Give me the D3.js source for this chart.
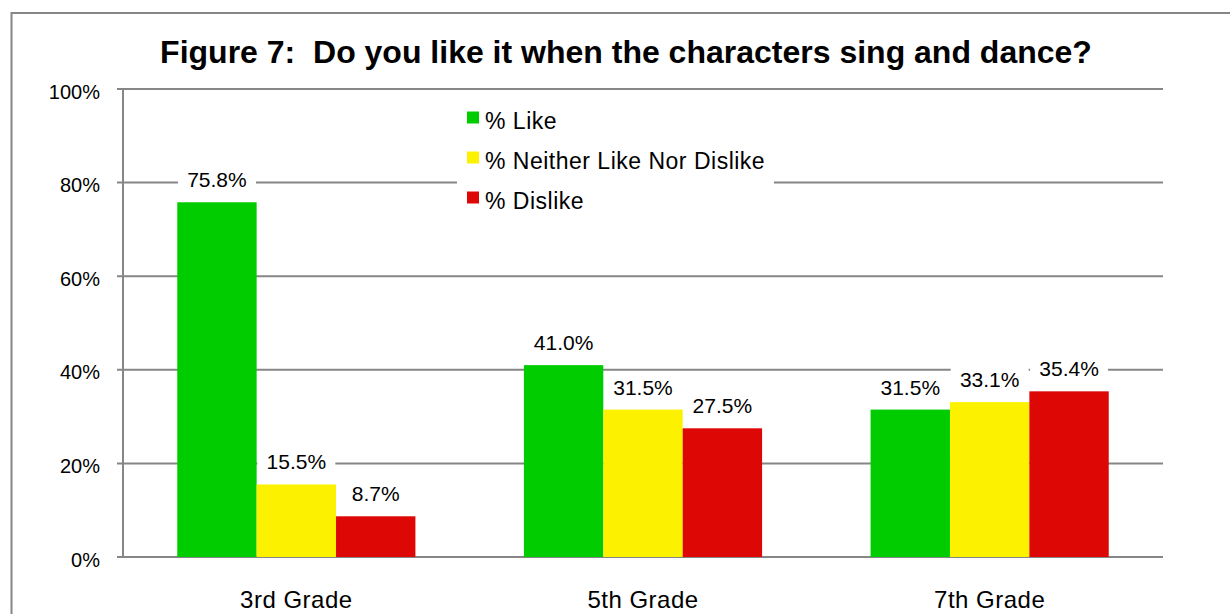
<!DOCTYPE html>
<html>
<head>
<meta charset="utf-8">
<script src="https://cdn.jsdelivr.net/npm/d3@7"></script>
<style>
  body { margin: 0; background: #fff; }
  text { font-family: "Liberation Sans", Arial, sans-serif; fill: #000; }
</style>
</head>
<body>
<script>
var grades = ["3rd Grade", "5th Grade", "7th Grade"];
var seriesNames = ["% Like", "% Neither Like Nor Dislike", "% Dislike"];
var like = [75.8, 41.0, 31.5];
var neither = [15.5, 31.5, 33.1];
var dislike = [8.7, 27.5, 35.4];
var yTicks = [0, 20, 40, 60, 80, 100];
var colors = ["#00cc00", "#fcf200", "#dd0806"];

var width = 1230, height = 614;
var plot = {left: 123, right: 1163, top: 89, bottom: 557};
var gridColor = "#868686";

var svg = d3.select("body")
  .append("svg")
    .attr("width", width)
    .attr("height", height);

// outer frame (only left and top edges visible in the crop)
svg.append("path")
  .attr("d", "M11.5,614 L11.5,13 L1230,13")
  .attr("fill", "none")
  .attr("stroke", gridColor)
  .attr("stroke-width", 2);

var y = d3.scaleLinear().domain([0, 100]).range([plot.bottom, plot.top]);
var x0 = d3.scaleBand().domain(grades).range([plot.left, plot.right]);
var groupW = x0.bandwidth() * 0.687;
var x1 = d3.scaleBand().domain(seriesNames)
  .range([(x0.bandwidth() - groupW) / 2, (x0.bandwidth() + groupW) / 2]);

// grid lines
svg.append("g").selectAll("line")
  .data(yTicks)
  .enter()
  .append("line")
    .attr("x1", plot.left - 6)
    .attr("x2", plot.right)
    .attr("y1", function(d) { return y(d); })
    .attr("y2", function(d) { return y(d); })
    .attr("stroke", gridColor)
    .attr("stroke-width", 2);

svg.append("line")
  .attr("x1", plot.left).attr("x2", plot.left)
  .attr("y1", y(100)).attr("y2", y(0))
  .attr("stroke", gridColor)
  .attr("stroke-width", 2);

svg.append("g").selectAll("text")
  .data(yTicks)
  .enter()
  .append("text")
    .attr("x", 100)
    .attr("y", function(d) { return y(d) + 9.5; })
    .attr("text-anchor", "end")
    .style("font-size", "20px")
    .text(function(d) { return d + "%"; });

// bars
var rows = [];
grades.forEach(function(g, i) {
  rows.push({grade: g, series: seriesNames[0], value: like[i], color: colors[0]});
  rows.push({grade: g, series: seriesNames[1], value: neither[i], color: colors[1]});
  rows.push({grade: g, series: seriesNames[2], value: dislike[i], color: colors[2]});
});

svg.append("g").selectAll("rect")
  .data(rows)
  .enter()
  .append("rect")
    .attr("x", function(d) { return x0(d.grade) + x1(d.series); })
    .attr("y", function(d) { return y(d.value); })
    .attr("width", x1.bandwidth())
    .attr("height", function(d) { return y(0) - y(d.value); })
    .attr("fill", function(d) { return d.color; });

// value labels with white backing
var labels = svg.append("g").selectAll("g")
  .data(rows)
  .enter()
  .append("g")
    .attr("transform", function(d) {
      return "translate(" + (x0(d.grade) + x1(d.series) + x1.bandwidth() / 2) + "," + (y(d.value) - 15) + ")";
    });

labels.append("rect")
  .attr("x", -39)
  .attr("y", -21)
  .attr("width", 78)
  .attr("height", 27)
  .attr("fill", "#fff");

labels.append("text")
  .attr("text-anchor", "middle")
  .style("font-size", "21px")
  .text(function(d) { return d.value.toFixed(1) + "%"; });

// category labels
svg.append("g").selectAll("text")
  .data(grades)
  .enter()
  .append("text")
    .attr("x", function(d) { return x0(d) + x0.bandwidth() / 2; })
    .attr("y", 608)
    .attr("text-anchor", "middle")
    .style("font-size", "24px")
    .style("letter-spacing", "0.5px")
    .text(function(d) { return d; });

// legend
var legend = svg.append("g");
legend.append("rect")
  .attr("x", 457).attr("y", 100)
  .attr("width", 317).attr("height", 115)
  .attr("fill", "#fff");

var item = legend.selectAll("g")
  .data(seriesNames)
  .enter()
  .append("g")
    .attr("transform", function(d, i) { return "translate(467," + (117.5 + i * 40) + ")"; });

item.append("rect")
  .attr("x", 0).attr("y", -6)
  .attr("width", 12).attr("height", 12)
  .attr("fill", function(d, i) { return colors[i]; });

item.append("text")
  .attr("x", 18)
  .attr("y", 11.5)
  .style("font-size", "23px")
  .style("letter-spacing", "0.5px")
  .text(function(d) { return d; });

// title
svg.append("text")
  .attr("x", 626)
  .attr("y", 63)
  .attr("text-anchor", "middle")
  .style("font-size", "32px")
  .style("font-weight", "bold")
  .style("white-space", "pre")
  .text("Figure 7:  Do you like it when the characters sing and dance?");
</script>
</body>
</html>
